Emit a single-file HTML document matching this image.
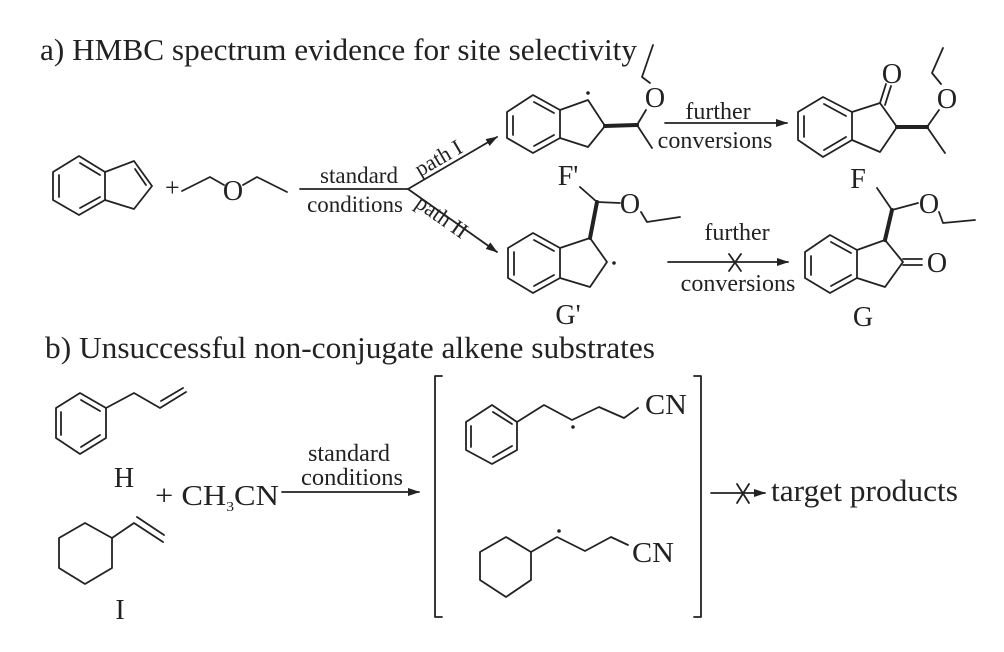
<!DOCTYPE html>
<html><head><meta charset="utf-8"><style>
html,body{margin:0;padding:0;background:#fff}
svg{display:block}
text{font-family:"Liberation Serif",serif;fill:#222}
</style></head><body>
<svg width="1004" height="652" viewBox="0 0 1004 652" xmlns="http://www.w3.org/2000/svg">
<defs><marker id="ah" markerWidth="12" markerHeight="8" refX="11" refY="4" orient="auto" markerUnits="userSpaceOnUse"><path d="M0,0 L12,4 L0,8 Z" fill="#222"/></marker></defs>
<g stroke="#222" stroke-width="1.8" fill="none" stroke-linecap="round" stroke-linejoin="round">
<path d="M79,156 L53,172 L53,200 L79,215 L105,200 L105,172 Z"/>
<path d="M59,175 L59,197 M80,163 L100,175 M80,208 L100,197"/>
<path d="M105,172 L134,161 L152,186 L134,209 L105,200"/>
<path d="M135,169 L146,185"/>
<path d="M182,191 L210,177 L224,185 M243,185 L257,177 L287,192"/>
<path d="M300,189 L408,189"/>
<path d="M408,189 L497,137" marker-end="url(#ah)"/>
<path d="M408,189 L497,252" marker-end="url(#ah)"/>
<path d="M533,95 L507,112 L507,138 L533,153 L560,138 L560,110 Z"/>
<path d="M513,116 L513,135 M534,102 L554,113 M534,146 L554,135"/>
<path d="M560,110 L588,100 L605,126 L588,147 L560,138"/>
<path d="M605,126 L637,125" stroke-width="4"/>
<path d="M637,125 L646,110 M650,83 L642,77 L653,45 M637,125 L652,148"/>
<path d="M665,123 L787,123" marker-end="url(#ah)"/>
<path d="M823,97 L798,112 L798,140 L823,157 L852,140 L852,112 Z"/>
<path d="M804,116 L804,137 M824,104 L846,116 M824,150 L846,137"/>
<path d="M852,112 L880,103 L897,127 L880,152 L852,140"/>
<path d="M880,103 L886,84 M885,105 L891,86"/>
<path d="M897,127 L927,127" stroke-width="4"/>
<path d="M927,127 L939,110 M941,84 L932,73 L943,48 M927,127 L945,153"/>
<path d="M533,233 L508,248 L508,278 L533,293 L560,278 L560,248 Z"/>
<path d="M514,252 L514,275 M534,240 L554,251 M534,286 L554,275"/>
<path d="M560,248 L590,238 L607,262 L590,287 L560,278"/>
<path d="M590,238 L597,202" stroke-width="4"/>
<path d="M597,202 L580,187 M597,202 L620,203 M641,212 L647,222 L680,217"/>
<path d="M668,262 L788,262" marker-end="url(#ah)"/>
<path d="M729,254 L741,271 M741,254 L729,271"/>
<path d="M830,235 L805,252 L805,278 L830,293 L857,278 L857,250 Z"/>
<path d="M811,256 L811,275 M831,242 L851,253 M831,286 L851,275"/>
<path d="M857,250 L885,240 L903,262 L885,287 L857,278"/>
<path d="M903,259 L922,259 M903,265 L922,265"/>
<path d="M885,240 L892,210" stroke-width="4"/>
<path d="M892,210 L877,188 M892,210 L918,203 M939,212 L943,223 L975,220"/>
<path d="M80,393 L56,408 L56,438 L80,454 L106,438 L106,408 Z"/>
<path d="M61,412 L61,435 M81,400 L100,411 M81,447 L100,435"/>
<path d="M106,408 L134,393 L160,408 L186,392 M161,401 L183,388"/>
<path d="M282,492 L419,492" marker-end="url(#ah)"/>
<path d="M85,523 L59,538 L59,568 L85,584 L112,568 L112,538 Z"/>
<path d="M112,538 L134,523 L163,542 M137,517 L164,535"/>
<path d="M442,376 L435,376 L435,617 L442,617 M694,376 L701,376 L701,617 L694,617"/>
<path d="M492,405 L466,422 L466,450 L492,464 L517,450 L517,422 Z"/>
<path d="M471,426 L471,447 M493,412 L512,424 M493,457 L512,446"/>
<path d="M517,422 L544,405 L572,420 L599,407 L624,418 L638,408"/>
<path d="M506,537 L480,552 L480,580 L506,597 L531,580 L531,552 Z"/>
<path d="M531,552 L557,537 L585,551 L611,537 L628,545"/>
<path d="M711,493 L765,493" marker-end="url(#ah)"/>
<path d="M737,484 L749,503 M749,484 L737,503"/>
</g>
<g fill="#222">
<circle cx="588" cy="93" r="1.8"/>
<circle cx="614" cy="263" r="1.8"/>
<circle cx="573" cy="427" r="1.8"/>
<circle cx="559" cy="531" r="1.8"/>
</g>
<text x="40" y="60" font-size="31" textLength="597" lengthAdjust="spacingAndGlyphs">a) HMBC spectrum evidence for site selectivity</text>
<text x="165" y="196" font-size="26">+</text>
<text x="233" y="200" font-size="28" text-anchor="middle">O</text>
<text x="359" y="183" font-size="23" text-anchor="middle">standard</text>
<text x="355" y="212" font-size="23" text-anchor="middle">conditions</text>
<text x="0" y="0" font-size="22" transform="translate(420,177) rotate(-30)">path I</text>
<text x="0" y="0" font-size="22" transform="translate(414,206) rotate(35)">path II</text>
<text x="655" y="107" font-size="28" text-anchor="middle">O</text>
<text x="718" y="119" font-size="24" text-anchor="middle">further</text>
<text x="715" y="148" font-size="24" text-anchor="middle">conversions</text>
<text x="568" y="185" font-size="28" text-anchor="middle">F'</text>
<text x="892" y="83" font-size="28" text-anchor="middle">O</text>
<text x="947" y="108" font-size="28" text-anchor="middle">O</text>
<text x="858" y="188" font-size="28" text-anchor="middle">F</text>
<text x="630" y="213" font-size="28" text-anchor="middle">O</text>
<text x="737" y="240" font-size="24" text-anchor="middle">further</text>
<text x="738" y="291" font-size="24" text-anchor="middle">conversions</text>
<text x="568" y="324" font-size="28" text-anchor="middle">G'</text>
<text x="929" y="213" font-size="28" text-anchor="middle">O</text>
<text x="937" y="272" font-size="28" text-anchor="middle">O</text>
<text x="863" y="326" font-size="28" text-anchor="middle">G</text>
<text x="45" y="358" font-size="31" textLength="610" lengthAdjust="spacingAndGlyphs">b) Unsuccessful non-conjugate alkene substrates</text>
<text x="124" y="487" font-size="28" text-anchor="middle">H</text>
<text x="155" y="505" font-size="29" textLength="124" lengthAdjust="spacingAndGlyphs">+ CH<tspan font-size="14" dy="6">3</tspan><tspan dy="-6">CN</tspan></text>
<text x="349" y="461" font-size="24" text-anchor="middle" textLength="82" lengthAdjust="spacingAndGlyphs">standard</text>
<text x="352" y="485" font-size="24" text-anchor="middle" textLength="102" lengthAdjust="spacingAndGlyphs">conditions</text>
<text x="120" y="619" font-size="28" text-anchor="middle">I</text>
<text x="666" y="414" font-size="28" text-anchor="middle" textLength="42" lengthAdjust="spacingAndGlyphs">CN</text>
<text x="653" y="562" font-size="28" text-anchor="middle" textLength="42" lengthAdjust="spacingAndGlyphs">CN</text>
<text x="771" y="501" font-size="31" textLength="187" lengthAdjust="spacingAndGlyphs">target products</text>
</svg>
</body></html>
